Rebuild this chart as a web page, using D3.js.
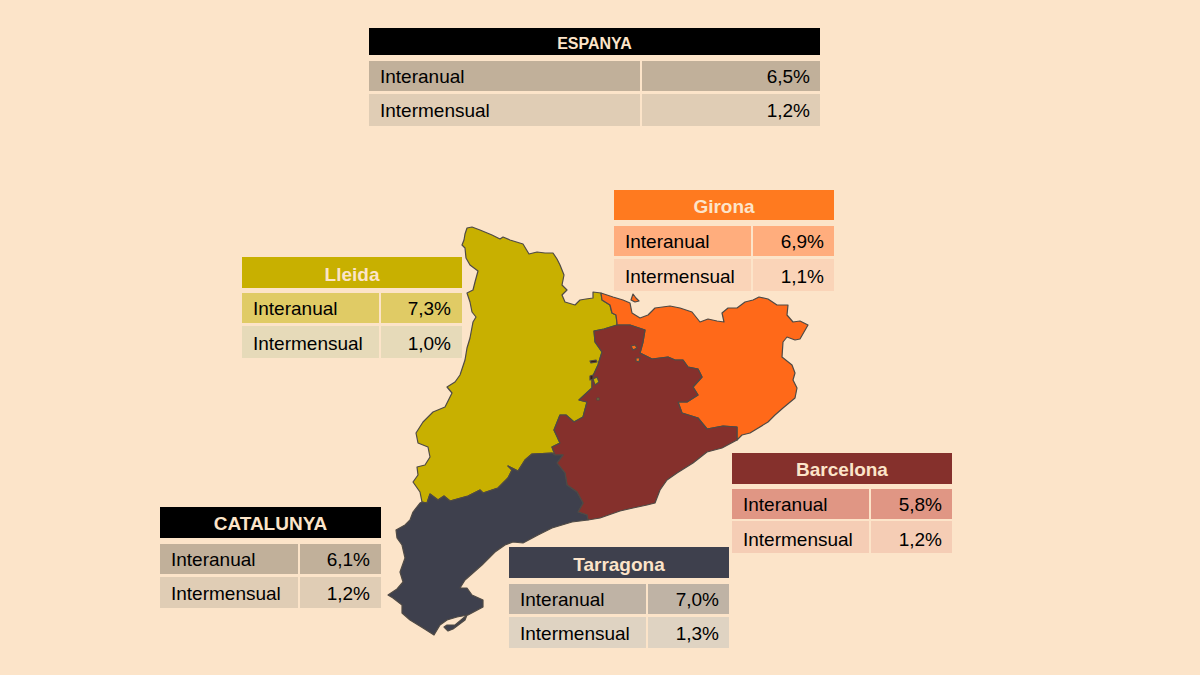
<!DOCTYPE html>
<html>
<head>
<meta charset="utf-8">
<script src="https://cdn.jsdelivr.net/npm/d3@7"></script>
<style>
  html, body { margin: 0; padding: 0; background: #FCE4C9; }
  svg { display: block; }
</style>
</head>
<body>
<script>
// Table data
const tableNames = ["ESPANYA", "Girona", "Lleida", "Barcelona", "Tarragona", "CATALUNYA"];
const rowLabels = ["Interanual", "Intermensual"];
const interanual = ["6,5%", "6,9%", "7,3%", "5,8%", "7,0%", "6,1%"];
const intermensual = ["1,2%", "1,1%", "1,0%", "1,2%", "1,3%", "1,2%"];

// Borders, in map units. Shared stretches are kept once.
const lleidaNorth = [[601,293],[593,292],[593,298],[586,299],[580,300],[575,305],[565,302],[562,295],[567,290],[562,285],[564,275],[560,265],[557,259],[553,253],[545,253],[537,252],[529,254],[526,249],[523,244],[510,240],[503,237],[500,239],[492,235],[480,230],[472,227],[467,228],[465,234],[464,240],[462,245],[465,248],[466,258],[470,265],[478,271],[475,282],[473,290],[467,293],[470,302],[472,312],[476,317],[473,322],[470,338],[467,348],[465,360],[460,375],[455,382],[447,387],[452,393],[445,407],[433,412],[423,422],[416,433],[418,443],[428,447],[430,457],[425,465],[417,467],[418,475],[413,482],[420,492],[422,502]];
const lleidaTarragona = [[422,502],[427,503],[430,494],[438,500],[444,496],[450,501],[468,496],[480,490],[483,493],[498,488],[508,478],[512,470],[508,466],[518,471],[525,460],[532,454],[552,453],[555,455]];
const lleidaBarcelona = [[555,455],[552,447],[560,443],[554,430],[560,415],[566,415],[574,422],[583,417],[587,402],[579,400],[592,388],[592,378],[598,365],[602,352],[595,342],[594,331],[604,329],[617,325]];
const lleidaGirona = [[617,325],[617,323],[616,315],[612,313],[610,305],[602,300],[601,293]];
const gironaCoast = [[601,293],[613,297],[623,300],[630,303],[632,313],[640,318],[648,315],[655,308],[670,306],[680,308],[692,312],[700,322],[708,319],[717,321],[724,322],[722,313],[728,308],[737,308],[745,302],[753,300],[759,297],[768,299],[777,305],[788,305],[787,315],[793,322],[800,321],[808,325],[804,332],[800,339],[795,340],[787,337],[783,342],[782,357],[792,365],[795,373],[793,380],[797,388],[795,398],[783,408],[775,415],[768,422],[750,433],[742,435],[737,440]];
const gironaBarcelona = [[737,440],[737,427],[723,426],[707,429],[698,418],[682,413],[678,402],[687,402],[698,395],[693,387],[702,377],[698,369],[688,367],[683,360],[675,360],[668,357],[660,358],[652,359],[640,353],[643,342],[645,330],[630,325],[617,325]];
const barcelonaCoast = [[737,440],[722,448],[707,452],[693,463],[677,473],[667,480],[660,490],[655,503],[647,505],[633,508],[620,511],[600,518],[588,520]];
const barcelonaTarragona = [[588,520],[587,515],[578,512],[583,503],[577,492],[567,485],[565,473],[557,463],[563,455],[555,455]];
const tarragonaCoast = [[588,520],[572,522],[552,528],[538,535],[523,543],[513,542],[505,545],[495,552],[482,565],[465,580],[460,588],[467,588],[472,595],[483,600],[483,607],[468,615],[457,617],[447,620],[440,625],[434,635],[423,628],[410,620],[402,613],[402,605],[393,598],[388,595],[397,589],[403,582],[400,572],[405,558],[402,545],[397,538],[396,530],[405,525],[410,520],[413,512],[420,503],[422,502]];

// Small pieces
const llivia = [[633,294],[636,298],[639,301],[635,302],[631,300]];
const ebreSpit = [[467,615],[465,620],[453,629],[448,631],[444,627],[447,625],[455,625]];
const gironaBits = [[[631,346],[635,345],[637,348],[633,350]],[[636,358],[640,358],[639,362],[636,361]]];
const lleidaBits = [[[593,379],[597,377],[599,382],[595,385]],[[597,398],[599,398],[599,400],[597,400]]];
const darkBits = [[[590,361],[596,360],[597,362],[591,363]],[[590,376],[593,375],[593,379],[590,380]]];

const regionNames = ["Lleida", "Girona", "Barcelona", "Tarragona"];
const lleidaRing = [lleidaNorth, lleidaTarragona, lleidaBarcelona, lleidaGirona];
const gironaRing = [gironaCoast, gironaBarcelona, lleidaGirona];
const barcelonaRing = [barcelonaCoast, barcelonaTarragona, lleidaBarcelona, gironaBarcelona.slice().reverse()];
const tarragonaRing = [tarragonaCoast, lleidaTarragona, barcelonaTarragona.slice().reverse()];

const width = 1200, height = 675;
const bg = "#FCE4C9";

const svg = d3.select("body").append("svg")
  .attr("width", width)
  .attr("height", height);

svg.append("rect").attr("width", width).attr("height", height).attr("fill", bg);

// Map
const mapX = d3.scaleLinear().domain([380, 820]).range([380, 820]);
const mapY = d3.scaleLinear().domain([220, 640]).range([220, 640]);
const line = d3.line().x(d => mapX(d[0])).y(d => mapY(d[1])).curve(d3.curveLinearClosed);

const regionColor = d3.scaleOrdinal(regionNames, ["#C8B000", "#FF6919", "#85302C", "#3E404D"]);
const rings = [lleidaRing, gironaRing, barcelonaRing, tarragonaRing];

const map = svg.append("g").attr("stroke", "#4f4a45").attr("stroke-width", 1.2).attr("stroke-linejoin", "round");

map.selectAll("path.region")
  .data(regionNames)
  .join("path")
  .attr("class", "region")
  .attr("d", (d, i) => line(rings[i].flat()))
  .attr("fill", d => regionColor(d));

map.append("path").attr("d", line(llivia)).attr("fill", regionColor("Girona"));
map.append("path").attr("d", line(ebreSpit)).attr("fill", regionColor("Tarragona"));
gironaBits.forEach(b => map.append("path").attr("d", line(b)).attr("fill", regionColor("Girona")));
lleidaBits.forEach(b => map.append("path").attr("d", line(b)).attr("fill", regionColor("Lleida")));
darkBits.forEach(b => map.append("path").attr("d", line(b)).attr("fill", "#3a1a12"));

// Tables
const tableLeft = [369, 614, 242, 732, 509, 160];
const tableTop = [28, 190, 257, 453, 547, 507];
const tableWidth = [451, 220, 220, 220, 220, 221];
const labelCol = [271, 137, 137, 137, 137, 138];
const labelPad = [11, 11, 11, 11, 11, 11];
const valuePad = [10, 10, 11, 10, 10, 11];
const headHeight = [27, 30, 31, 31, 31, 31];
const headSize = [16, 19, 19, 19, 19, 19];
const headBase = [20.5, 23, 24, 23, 24, 23];
const rowTops = [[33, 66], [36, 69], [36, 69], [36, 68], [37, 70], [37, 70]];
const rowHeights = [[30, 32], [30, 32], [30, 32], [30, 32], [30, 31], [30, 31]];
const rowBases = [[54.5, 88.5], [57.5, 92.5], [57.5, 92.5], [57.5, 92.5], [58.5, 92.5], [58.5, 92.5]];
const headFill = ["#000000", "#FF7A1F", "#C8B000", "#85302C", "#3E404D", "#000000"];
const row1Fill = ["#C1B09A", "#FFAD7D", "#E0CB65", "#E09684", "#BFB3A5", "#C1B09A"];
const row2Fill = ["#E0CDB5", "#FAD4B8", "#E6DAB9", "#F5CDB5", "#DFD3C2", "#E0CDB5"];

tableNames.forEach((name, i) => {
  const g = svg.append("g").attr("transform", "translate(" + tableLeft[i] + "," + tableTop[i] + ")");
  const w = tableWidth[i];
  const c = labelCol[i];

  g.append("rect").attr("width", w).attr("height", headHeight[i]).attr("fill", headFill[i]);
  g.append("text")
    .attr("x", w / 2).attr("y", headBase[i])
    .attr("text-anchor", "middle")
    .attr("font-family", "Liberation Sans")
    .attr("font-weight", "bold")
    .attr("font-size", headSize[i])
    .attr("fill", bg)
    .text(name);

  const fills = [row1Fill[i], row2Fill[i]];
  const vals = [interanual[i], intermensual[i]];
  rowLabels.forEach((label, j) => {
    const top = rowTops[i][j], h = rowHeights[i][j];
    const base = rowBases[i][j];
    g.append("rect").attr("y", top).attr("width", c).attr("height", h).attr("fill", fills[j]);
    g.append("rect").attr("x", c + 2).attr("y", top).attr("width", w - c - 2).attr("height", h).attr("fill", fills[j]);
    g.append("text")
      .attr("x", labelPad[i]).attr("y", base)
      .attr("font-family", "Liberation Sans").attr("font-size", 19).attr("fill", "#000")
      .text(label);
    g.append("text")
      .attr("x", w - valuePad[i]).attr("y", base)
      .attr("text-anchor", "end")
      .attr("font-family", "Liberation Sans").attr("font-size", 19).attr("fill", "#000")
      .text(vals[j]);
  });
});
</script>
</body>
</html>
